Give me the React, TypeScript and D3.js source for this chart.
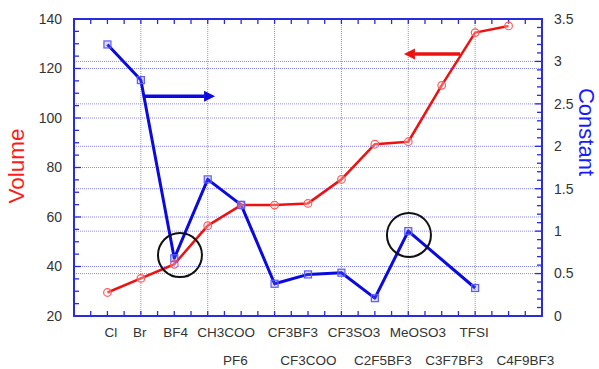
import React from "react";
import * as d3 from "d3";

const categories = ["Cl", "Br", "BF4", "CH3COO", "PF6", "CF3BF3", "CF3COO", "CF3SO3", "C2F5BF3", "MeOSO3", "C3F7BF3", "TFSI", "C4F9BF3"];
const volume = [29.5, 35.2, 40.9, 56.5, 64.8, 64.8, 65.5, 75.2, 89.4, 90.4, 113.2, 134.5, 137.2];
const constant: (number | null)[] = [3.2, 2.78, 0.68, 1.61, 1.31, 0.38, 0.49, 0.51, 0.21, 1.0, null, 0.33, null];
const leftTicks = [20, 40, 60, 80, 100, 120, 140];
const rightTicks = [0, 0.5, 1, 1.5, 2, 2.5, 3, 3.5];
// where each category label sits along the x axis (axis units), and which row
const labelAt = [1.1, 1.97, 3.04, 4.55, 4.83, 6.55, 7.01, 8.38, 9.24, 10.29, 11.37, 11.97, 13.5];
const labelRow = [0, 0, 0, 0, 1, 0, 1, 0, 1, 0, 1, 0, 1];

const W = 599, H = 369;
const L = 74, R = 542, T = 19, B = 316;

export default function App() {
  const x = d3.scaleLinear().domain([0, 14]).range([L, R]);
  const yL = d3.scaleLinear().domain([20, 140]).range([B, T]);
  const yR = d3.scaleLinear().domain([0, 3.5]).range([B, T]);

  const gridColor = "#8a8aff";
  const frameColor = "#2a2ae0";
  const textColor = "#333";
  const font = "'Liberation Sans', Arial, sans-serif";

  const redPts = volume.map((v, i) => [x(i + 1), yL(v)] as [number, number]);
  const bluePts = constant
    .map((v, i) => (v == null ? null : ([x(i + 1), yR(v)] as [number, number])))
    .filter((p): p is [number, number] => p !== null);
  const line = d3.line();

  const minorLeft = d3.range(20, 140.01, 5);
  const minorRight = d3.range(0, 3.501, 0.1);
  const minorX = d3.range(0, 14.01, 0.5);
  const vGrid = [2, 4, 6, 8, 10, 12];

  // annotations (data coordinates)
  const blueArrow = { x0: 2.06, x1: 4.22, y: yR(2.59) };
  const redArrow = { x0: 11.55, x1: 9.87, y: yL(125.9) };
  const circles = [
    { cx: x(3.17), cy: yL(44.6) },
    { cx: x(10.02), cy: yR(0.955) },
  ];

  const arrow = (x0: number, x1: number, y: number, color: string) => {
    const dir = Math.sign(x1 - x0);
    const hl = 11, hw = 5.5;
    const xb = x1 - dir * hl;
    return (
      <g>
        <line x1={x0} y1={y} x2={xb} y2={y} stroke={color} strokeWidth={3.5} />
        <path d={`M${x1},${y}L${xb},${y - hw}L${xb},${y + hw}Z`} fill={color} />
      </g>
    );
  };

  return (
    <div style={{ position: "absolute", left: 0, top: 0 }}>
      <svg width={W} height={H} style={{ display: "block", background: "#fff" }}>
        {/* grid */}
        <g stroke={gridColor} strokeWidth={1} strokeDasharray="1,1">
          {vGrid.map((v) => (
            <line key={"v" + v} x1={x(v)} x2={x(v)} y1={T} y2={B} />
          ))}
          {leftTicks.slice(1, -1).map((v) => (
            <line key={"l" + v} x1={L} x2={R} y1={yL(v)} y2={yL(v)} />
          ))}
          {rightTicks.slice(1, -1).map((v) => (
            <line key={"r" + v} x1={L} x2={R} y1={yR(v)} y2={yR(v)} />
          ))}
        </g>
        {/* ticks */}
        <g stroke={frameColor} strokeWidth={1.3}>
          {minorLeft.map((v) => {
            const major = Math.abs(v % 20) < 1e-6;
            return <line key={"tl" + v} x1={L} x2={L + (major ? 7 : 5)} y1={yL(v)} y2={yL(v)} />;
          })}
          {minorRight.map((v, i) => {
            const major = i % 5 === 0;
            return <line key={"tr" + i} x1={R} x2={R - (major ? 7 : 5)} y1={yR(v)} y2={yR(v)} />;
          })}
          {minorX.map((v) => (
            <g key={"tx" + v}>
              <line x1={x(v)} x2={x(v)} y1={B} y2={B - 5} />
              <line x1={x(v)} x2={x(v)} y1={T} y2={T + 5} />
            </g>
          ))}
        </g>
        <rect x={L} y={T} width={R - L} height={B - T} fill="none" stroke={frameColor} strokeWidth={2} />

        {/* lines */}
        <path d={line(bluePts) || ""} fill="none" stroke="#0a0ae0" strokeWidth={3} strokeLinejoin="round" />
        <path d={line(redPts) || ""} fill="none" stroke="#ee1111" strokeWidth={2.5} strokeLinejoin="round" />
        {redPts.map((p, i) => (
          <circle key={"rc" + i} cx={p[0]} cy={p[1]} r={3.8} fill="rgba(255,255,255,0.3)" stroke="#ff5a5a" strokeWidth={1.2} />
        ))}
        {bluePts.map((p, i) => (
          <rect key={"bs" + i} x={p[0] - 3.5} y={p[1] - 3.5} width={7} height={7} fill="rgba(120,120,255,0.25)" stroke="#5a5aff" strokeWidth={1.2} />
        ))}

        {/* annotations */}
        {arrow(x(blueArrow.x0), x(blueArrow.x1), blueArrow.y, "#0a0ae0")}
        {arrow(x(redArrow.x0), x(redArrow.x1), redArrow.y, "#ee1111")}
        {circles.map((c, i) => (
          <circle key={"ci" + i} cx={c.cx} cy={c.cy} r={22} fill="none" stroke="#111" strokeWidth={2} />
        ))}

        {/* tick labels */}
        <g fontFamily={font} fontSize={14} fill={textColor}>
          {leftTicks.map((v) => (
            <text key={"ll" + v} x={62} y={yL(v)} dy="0.35em" textAnchor="end">{v}</text>
          ))}
          {rightTicks.map((v) => (
            <text key={"rl" + v} x={554} y={yR(v)} dy="0.35em" textAnchor="start">{v}</text>
          ))}
          {categories.map((c, i) => (
            <text key={"c" + c} x={x(labelAt[i])} y={labelRow[i] ? 365 : 337} textAnchor="middle" fontSize={13.5}>{c}</text>
          ))}
        </g>
        <text transform={`translate(24,166) rotate(-90)`} textAnchor="middle" fontFamily={font} fontSize={22.5} fill="#ff1a1a">Volume</text>
        <text transform={`translate(579,132) rotate(90)`} textAnchor="middle" fontFamily={font} fontSize={22} fill="#1a1aff">Constant</text>
      </svg>
    </div>
  );
}
